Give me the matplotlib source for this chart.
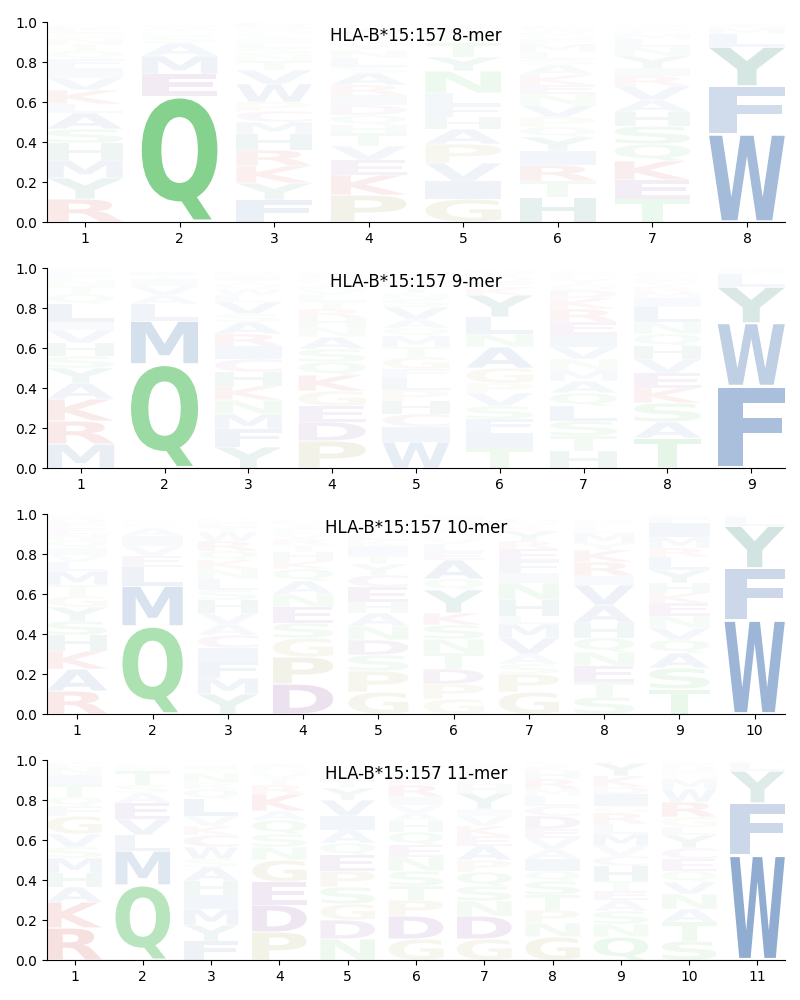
import matplotlib
matplotlib.use("Agg")
import matplotlib.pyplot as plt
from matplotlib.textpath import TextPath
from matplotlib.patches import PathPatch
from matplotlib.font_manager import FontProperties
from matplotlib.transforms import Affine2D

# letters of each position, bottom to top, and their heights
letters_8 = ["RYMHSALKVIFQTNGEDC", "QEMASLTVI", "FYKRHMCPWVTNSLIAEGQD",
             "PKEVTHQDIRASLNYGFMWC", "GIVPAHFLNYTSQEKD", "HTRIYQPVNEKASLMFGDWC",
             "TEKQSHAVRIYNLMFGD", "WFYLMIV"]
heights_8 = [
    [.115, .105, .09, .085, .07, .08, .045, .07, .06, .05, .045, .04, .035, .03, .025, .02, .015, .01],
    [.63, .11, .09, .065, .035, .02, .015, .01, .01],
    [.11, .085, .085, .08, .08, .06, .055, .045, .09, .07, .045, .035, .03, .025, .02, .015, .01, .02, .02, .015],
    [.135, .1, .075, .07, .065, .04, .05, .05, .05, .05, .06, .03, .045, .04, .03, .02, .015, .01, .03, .02],
    [.115, .09, .09, .095, .075, .06, .06, .06, .11, .07, .07, .03, .025, .02, .015, .01],
    [.125, .08, .08, .07, .07, .05, .05, .06, .055, .045, .05, .05, .03, .035, .04, .025, .02, .01, .02, .015],
    [.115, .095, .095, .085, .09, .07, .06, .07, .05, .04, .06, .045, .04, .025, .02, .015, .01],
    [.44, .24, .195, .065, .03, .015, .01],
]

letters_9 = ["MRKAYSHVILQTNFEG", "QMLAVITES", "YFMNKHCIRASVLWQTEGDP",
             "PDEGKQSANHRTLVIYMFCW", "WICHPLFGTMQAVSNYEKRD", "TIFSVPGANLYKEQRM",
             "HTSLQAMNVIERKDGYFPC", "TASKEVHQNLIMRYFDGPW", "FWYLMI"]
heights_9 = [
    [.12, .115, .11, .08, .075, .06, .065, .065, .04, .09, .05, .04, .03, .025, .02, .015],
    [.52, .215, .085, .045, .045, .035, .02, .015, .01],
    [.105, .09, .075, .07, .07, .07, .065, .065, .06, .06, .04, .06, .035, .03, .025, .02, .015, .01, .015, .01],
    [.135, .095, .08, .075, .08, .065, .065, .06, .05, .045, .045, .04, .03, .025, .02, .015, .01, .02, .015, .01],
    [.13, .075, .065, .065, .055, .06, .045, .06, .05, .055, .04, .045, .06, .04, .03, .035, .025, .02, .015, .01],
    [.10, .075, .07, .065, .065, .05, .075, .105, .065, .085, .11, .035, .03, .025, .02, .015],
    [.085, .075, .075, .075, .065, .06, .055, .055, .06, .06, .065, .065, .055, .04, .03, .025, .02, .015, .01],
    [.15, .08, .095, .075, .075, .07, .065, .06, .06, .075, .045, .03, .025, .02, .015, .01, .01, .015, .01],
    [.41, .315, .18, .065, .015, .01],
]

letters_10 = ["RAKHSYGTMLVIQNEFDPC", "QMLEVIASTK", "YMFICAVHSLNKQRWTEGD",
              "DPGSENAQKHTRVLIYMF", "GPSDNAHECYTIKLQRVM", "GPDTNSKYQAELVHRMFWCI",
              "GPSAVMLHNIFERYKTQD", "STENQHAVIRKYMLFGD", "TSAQVNEKHYLRMIFG", "WFYLM"]
heights_10 = [
    [.115, .11, .09, .08, .07, .07, .055, .055, .07, .045, .035, .035, .04, .03, .03, .025, .02, .015, .01],
    [.44, .2, .095, .055, .05, .05, .04, .02, .015, .01],
    [.10, .08, .08, .07, .065, .055, .055, .065, .05, .055, .05, .045, .045, .05, .045, .025, .02, .015, .01],
    [.15, .135, .095, .075, .08, .065, .065, .06, .04, .045, .035, .03, .025, .02, .015, .015, .01, .01],
    [.11, .105, .08, .075, .07, .065, .055, .075, .06, .055, .045, .045, .03, .03, .025, .02, .015, .01],
    [.075, .075, .075, .08, .07, .07, .06, .115, .055, .095, .04, .04, .025, .02, .02, .015, .01, .02, .015, .02],
    [.11, .09, .05, .05, .08, .07, .04, .08, .085, .05, .06, .06, .04, .05, .02, .015, .01, .015],
    [.085, .075, .08, .07, .07, .075, .09, .1, .045, .07, .06, .035, .05, .025, .02, .015, .01],
    [.125, .105, .075, .065, .06, .06, .065, .05, .05, .065, .065, .045, .055, .07, .03, .015],
    [.47, .26, .21, .045, .01],
]

letters_11 = ["RKAHMSVGFQTINEY", "QMLVEASTIK", "FYMIHASWCKVLQRNTEG",
              "PDEGNSQAKRTVHLIY", "NDGSPEQAIVYTKHRL", "GDPTSNEQHAVIRKLYFM",
              "GDNSQPAEKVIYHLRTFM", "GNPTSQIAVEDCLMRHKYF", "QNSAETHCVMLRGIDKYF",
              "STANVQECYLGRWMHKIDFP", "WFYLM"]
heights_11 = [
    [.16, .13, .075, .07, .075, .055, .065, .09, .05, .045, .065, .045, .04, .02, .01],
    [.375, .17, .08, .08, .08, .05, .04, .07, .02, .01],
    [.095, .08, .08, .07, .07, .07, .04, .06, .06, .045, .05, .085, .05, .03, .05, .02, .015, .01],
    [.14, .135, .115, .11, .065, .065, .07, .045, .085, .045, .03, .025, .02, .015, .01, .01],
    [.105, .095, .08, .085, .08, .08, .06, .065, .07, .08, .06, .04, .025, .02, .015, .01],
    [.105, .115, .08, .07, .075, .07, .06, .065, .055, .04, .04, .04, .06, .035, .025, .02, .015, .01],
    [.105, .115, .075, .075, .07, .06, .07, .05, .05, .05, .035, .08, .04, .035, .025, .02, .015, .01],
    [.115, .07, .065, .075, .07, .05, .06, .05, .055, .045, .065, .05, .05, .035, .05, .04, .025, .015, .01],
    [.115, .065, .065, .055, .045, .05, .075, .05, .05, .06, .05, .055, .035, .06, .035, .055, .065, .01],
    [.095, .095, .065, .075, .06, .055, .06, .055, .065, .04, .05, .075, .065, .05, .02, .015, .01, .02, .015, .01],
    [.525, .26, .16, .04, .01],
]

titles = ["HLA-B*15:157 8-mer", "HLA-B*15:157 9-mer",
          "HLA-B*15:157 10-mer", "HLA-B*15:157 11-mer"]

# colour groups
blue = (0.12, 0.34, 0.63)
teal = (0.04, 0.43, 0.35)
green = (0.2, 0.71, 0.26)
tan = (0.6, 0.56, 0.2)
red = (0.78, 0.1, 0.1)
purple = (0.42, 0.12, 0.5)
colors = {}
for aa in "AVLIMFW":
    colors[aa] = blue
for aa in "YH":
    colors[aa] = teal
for aa in "QNST":
    colors[aa] = green
for aa in "GP":
    colors[aa] = tan
for aa in "KR":
    colors[aa] = red
for aa in "DE":
    colors[aa] = purple
colors["C"] = (0.55, 0.25, 0.55)

font = FontProperties(family="DejaVu Sans", weight="bold")


def draw_logo(ax, letters, heights, title):
    n = len(letters)
    for i in range(n):
        x = i + 1
        y = 0.0
        for ch, h in zip(letters[i], heights[i]):
            path = TextPath((0, 0), ch, size=1, prop=font)
            ext = path.get_extents()
            pad = h * 0.02
            tr = (Affine2D().translate(-ext.x0, -ext.y0)
                  .scale(0.8 / ext.width, (h - 2 * pad) / ext.height)
                  .translate(x - 0.4, y + pad))
            # fainter for rare residues
            alpha = min(1.0, h ** 1.1)
            ax.add_patch(PathPatch(tr.transform_path(path), fc=colors[ch],
                                   ec="none", lw=0, alpha=alpha))
            y += h
    ax.set_xlim(0.6, n + 0.4)
    ax.set_ylim(0, 1)
    ax.set_xticks(range(1, n + 1))
    ax.spines["top"].set_visible(False)
    ax.spines["right"].set_visible(False)
    ax.text(0.5, 0.93, title, transform=ax.transAxes, ha="center", va="center", fontsize=12)


fig = plt.figure(figsize=(8, 10), dpi=100)
data = [(letters_8, heights_8), (letters_9, heights_9),
        (letters_10, heights_10), (letters_11, heights_11)]
bottoms = [0.778, 0.532, 0.286, 0.04]
for k in range(4):
    ax = fig.add_axes([0.059, bottoms[k], 0.922, 0.2])
    draw_logo(ax, data[k][0], data[k][1], titles[k])

plt.savefig("out.png", dpi=100)
